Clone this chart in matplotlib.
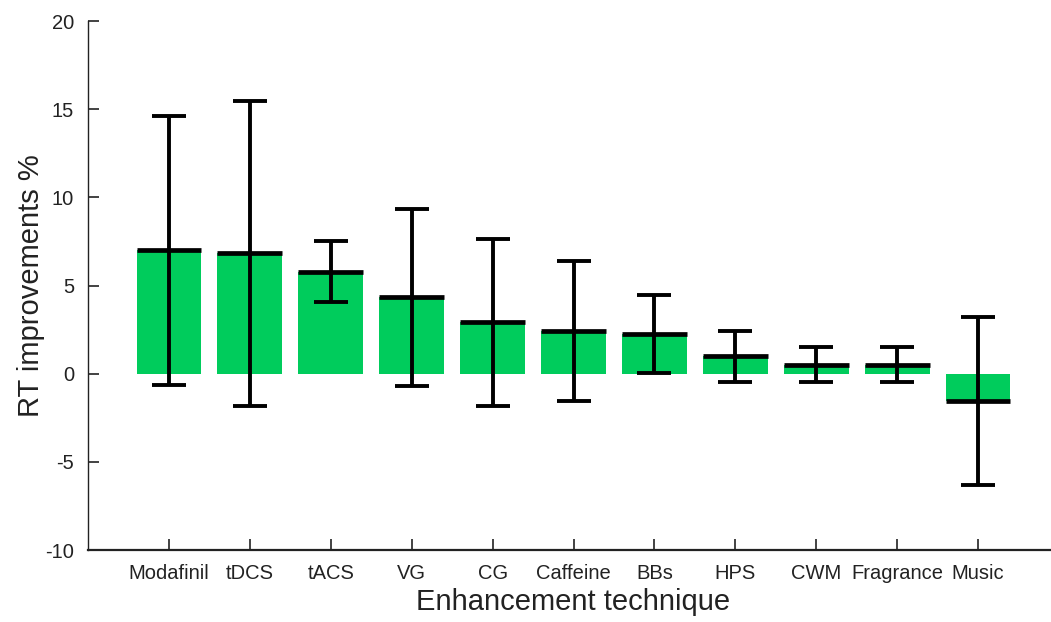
import numpy as np
import matplotlib
matplotlib.use('Agg')
import matplotlib.pyplot as plt

plt.rcParams['font.family'] = ['Liberation Sans', 'DejaVu Sans']
plt.rcParams['axes.unicode_minus'] = False

techniques = ['Modafinil', 'tDCS', 'tACS', 'VG', 'CG', 'Caffeine',
              'BBs', 'HPS', 'CWM', 'Fragrance', 'Music']
means = [7.0, 6.83, 5.79, 4.33, 2.92, 2.44, 2.25, 0.98, 0.5, 0.5, -1.55]
errors = [7.63, 8.66, 1.74, 5.02, 4.74, 3.97, 2.2, 1.44, 1.0, 1.0, 4.78]

fig = plt.figure(figsize=(10.51, 6.22), dpi=100)
ax = fig.add_axes([88 / 1051, 1 - 550 / 622, 971 / 1051, 529 / 622])

x = np.arange(1, len(techniques) + 1)
ax.bar(x, means, width=0.8, color='#00CC5C', zorder=1)
ax.hlines(means, x - 0.4, x + 0.4, colors='k', linewidth=3.4, zorder=2)
ax.errorbar(x, means, yerr=errors, fmt='none', ecolor='k',
            elinewidth=2.8, capsize=12, capthick=2.8, zorder=3)

ax.set_xlim(0, 12)
ax.set_ylim(-10, 20)
ax.set_xticks(x)
ax.set_xticklabels(techniques)
ax.set_yticks([-10, -5, 0, 5, 10, 15, 20])
ax.tick_params(direction='in', length=8, width=1.2, labelsize=14.5,
               colors='#222222', pad=10)
ax.spines['top'].set_visible(False)
ax.spines['right'].set_visible(False)
ax.spines['left'].set_linewidth(1.0)
ax.spines['bottom'].set_linewidth(1.6)
ax.spines['left'].set_color('#222222')
ax.spines['bottom'].set_color('#222222')

ax.set_xlabel('Enhancement technique', fontsize=21, color='#222222', labelpad=4)
ax.set_ylabel('RT improvements %', fontsize=21, color='#222222', labelpad=0)

fig.savefig('out.png', dpi=100)
